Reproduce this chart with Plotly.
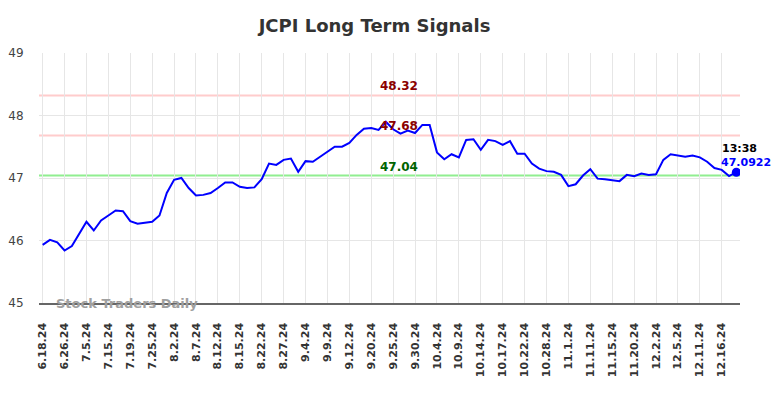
import plotly.graph_objects as go

tick_labels = ["6.18.24", "6.26.24", "7.5.24", "7.15.24", "7.19.24", "7.25.24", "8.2.24", "8.7.24",
               "8.12.24", "8.15.24", "8.22.24", "8.27.24", "9.4.24", "9.9.24", "9.12.24", "9.20.24",
               "9.25.24", "9.30.24", "10.4.24", "10.9.24", "10.14.24", "10.17.24", "10.22.24", "10.28.24",
               "11.1.24", "11.11.24", "11.15.24", "11.20.24", "12.2.24", "12.5.24", "12.11.24", "12.16.24"]

prices = [45.93, 46.01, 45.97, 45.84, 45.91, 46.11, 46.30, 46.16, 46.32, 46.40,
          46.48, 46.47, 46.31, 46.27, 46.28, 46.30, 46.40, 46.76, 46.97, 47.00,
          46.84, 46.72, 46.73, 46.76, 46.84, 46.93, 46.93, 46.86, 46.84, 46.85,
          46.98, 47.23, 47.21, 47.29, 47.31, 47.10, 47.27, 47.26, 47.34, 47.42,
          47.50, 47.50, 47.56, 47.69, 47.79, 47.80, 47.77, 47.90, 47.78, 47.71,
          47.76, 47.72, 47.85, 47.85, 47.41, 47.30, 47.38, 47.33, 47.61, 47.62,
          47.45, 47.61, 47.59, 47.53, 47.59, 47.39, 47.39, 47.23, 47.15, 47.11,
          47.10, 47.05, 46.87, 46.90, 47.04, 47.14, 46.99, 46.98, 46.97, 46.95,
          47.05, 47.03, 47.07, 47.05, 47.06, 47.29, 47.38, 47.36, 47.34, 47.36,
          47.33, 47.26, 47.16, 47.13, 47.03, 47.0922]

x_index = list(range(len(prices)))
tick_positions = x_index[::3]

resistance_levels = [48.32, 47.68]
support_levels = [47.04]
last_time = "13:38"
last_value = "47.0922"

FONT = "DejaVu Sans"

fig = go.Figure()

for lvl in resistance_levels:
    fig.add_hline(y=lvl, line=dict(color="#ffcccc", width=2), layer="below")
for lvl in support_levels:
    fig.add_hline(y=lvl, line=dict(color="#90ee90", width=2), layer="below")

fig.add_trace(go.Scatter(x=x_index, y=prices, mode="lines",
                         line=dict(color="#0000ff", width=2), hoverinfo="skip"))
fig.add_trace(go.Scatter(x=[x_index[-1]], y=[prices[-1]], mode="markers",
                         marker=dict(color="#0000ff", size=9), hoverinfo="skip"))

for lvl in resistance_levels:
    fig.add_annotation(x=0.513, xref="paper", y=lvl, yref="y", text=f"<b>{lvl:.2f}</b>",
                       showarrow=False, yanchor="middle", yshift=10,
                       font=dict(family=FONT, size=12, color="#8b0000"))
for lvl in support_levels:
    fig.add_annotation(x=0.513, xref="paper", y=lvl, yref="y", text=f"<b>{lvl:.2f}</b>",
                       showarrow=False, yanchor="middle", yshift=9,
                       font=dict(family=FONT, size=12, color="#006400"))

fig.add_annotation(x=x_index[-1], y=prices[-1], text=f"<b>{last_time}</b>", showarrow=False,
                   xanchor="left", xshift=-16, yanchor="middle", yshift=24,
                   font=dict(family=FONT, size=11, color="#000000"))
fig.add_annotation(x=x_index[-1], y=prices[-1], text=f"<b>{last_value}</b>", showarrow=False,
                   xanchor="left", xshift=-17, yanchor="middle", yshift=10,
                   font=dict(family=FONT, size=11, color="#0000ff"))

fig.add_annotation(x=0.021, xref="paper", y=45, yref="y", text="<b>Stock Traders Daily</b>",
                   showarrow=False, xanchor="left", yanchor="middle",
                   font=dict(family=FONT, size=13, color="#a0a0a0"))

fig.update_layout(
    width=784, height=398,
    margin=dict(l=39, r=44, t=53, b=95, autoexpand=False),
    paper_bgcolor="white", plot_bgcolor="white",
    showlegend=False,
    title=dict(text="<b>JCPI Long Term Signals</b>", x=0.4777, xref="container", xanchor="center",
               y=0.935, yref="container", yanchor="middle",
               font=dict(family=FONT, size=18, color="#333333")),
    font=dict(family=FONT),
)

fig.update_xaxes(range=[-0.5, len(prices) - 0.5], tickmode="array", tickvals=tick_positions,
                 ticktext=[f"<b>{t}</b>" for t in tick_labels], tickangle=-90,
                 showgrid=True, gridcolor="#e6e6e6", gridwidth=1,
                 ticks="outside", ticklen=14, tickcolor="rgba(0,0,0,0)",
                 tickfont=dict(family=FONT, size=11, color="#333333"),
                 showline=True, linecolor="#666666", linewidth=1.5, zeroline=False)
fig.update_yaxes(range=[45, 49], dtick=1, showgrid=True, gridcolor="#e6e6e6", gridwidth=1,
                 ticks="outside", ticklen=12, tickcolor="rgba(0,0,0,0)",
                 tickfont=dict(family=FONT, size=12, color="#444444"),
                 showline=False, zeroline=False)

fig.write_html("out.html", config={"displayModeBar": False, "staticPlot": True},
               post_script="document.body.style.margin='0';document.body.style.overflow='hidden';")
